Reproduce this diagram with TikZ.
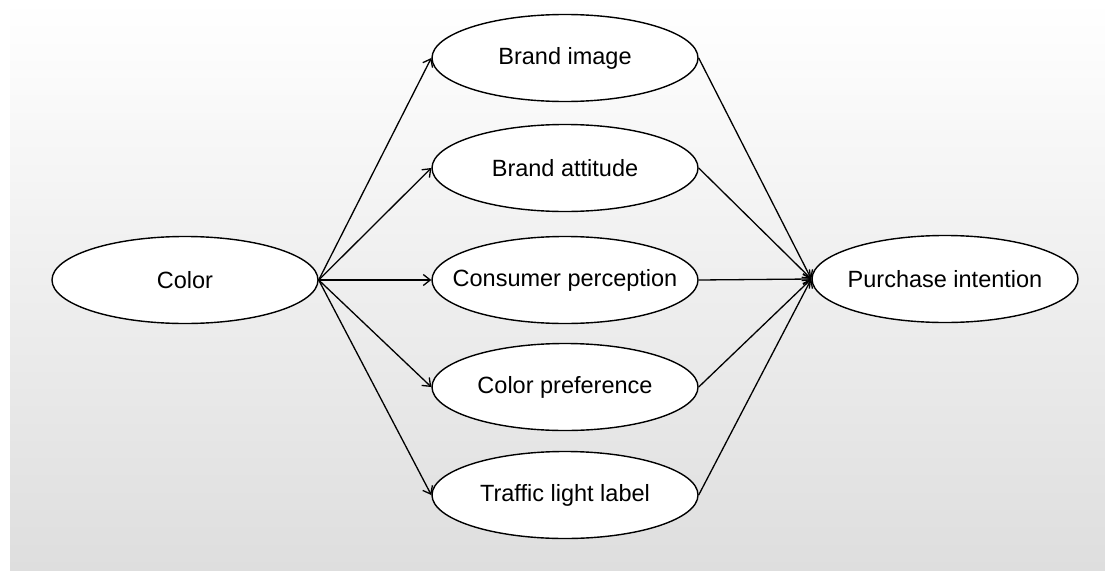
\documentclass[tikz,border=0pt]{standalone}
\usepackage{fontspec}
\setmainfont{Liberation Sans}
\usetikzlibrary{shapes.geometric,arrows.meta}
\definecolor{bgbottom}{RGB}{222,222,222}
\begin{document}
\begin{tikzpicture}[x=1pt,y=-1pt,
  oval/.style={ellipse,draw,line width=1.4pt,fill=white,minimum width=266pt,minimum height=87pt,inner xsep=-80pt,inner ysep=0pt,font=\fontsize{23.5}{28}\selectfont},
  link/.style={draw,line width=1.3pt,-{Straight Barb[length=7pt,width=11pt,line width=1.3pt]}}]
\useasboundingbox (0,0) rectangle (1105,570);
\shade[top color=white,bottom color=bgbottom] (10,0) rectangle (1105,570);
\node[oval] (color) at (185,280) {Color};
\node[oval] (bi) at (565,58) {Brand image};
\node[oval] (ba) at (565,168) {Brand attitude};
\node[oval] (cp) at (565,280) {Consumer perception};
\node[oval] (cpref) at (565,387) {Color preference};
\node[oval] (tl) at (565,495) {Traffic light label};
\node[oval] (pi) at (945,279) {Purchase intention};
\foreach \n in {bi,ba,cp,cpref,tl}{
  \draw[link] (color.east) -- (\n.west);
  \draw[link] (\n.east) -- (pi.west);
}
\end{tikzpicture}
\end{document}
